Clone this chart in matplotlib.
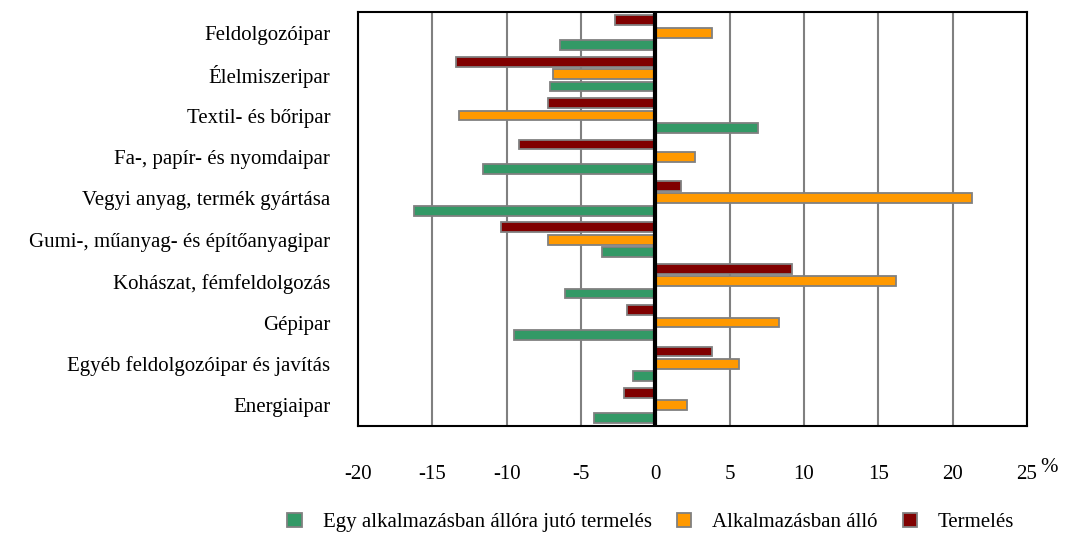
import numpy as np
import matplotlib.pyplot as plt

# Data (%)
categories = ["Feldolgozóipar", "Élelmiszeripar", "Textil- és bőripar",
              "Fa-, papír- és nyomdaipar", "Vegyi anyag, termék gyártása",
              "Gumi-, műanyag- és építőanyagipar", "Kohászat, fémfeldolgozás",
              "Gépipar", "Egyéb feldolgozóipar és javítás", "Energiaipar"]
termeles = [-2.7, -13.4, -7.2, -9.2, 1.7, -10.4, 9.2, -1.9, 3.8, -2.1]
alkalmazott = [3.8, -6.9, -13.2, 2.7, 21.3, -7.2, 16.2, 8.3, 5.6, 2.1]
egy_fore = [-6.4, -7.1, 6.9, -11.6, -16.2, -3.6, -6.1, -9.5, -1.5, -4.1]

series_labels = ["Egy alkalmazásban állóra jutó termelés", "Alkalmazásban álló", "Termelés"]
colors = ["#339966", "#FF9900", "#800000"]

plt.rcParams['font.family'] = ['Liberation Serif', 'DejaVu Serif']
plt.rcParams['axes.unicode_minus'] = False
fs = 15

fig = plt.figure(figsize=(10.67, 5.36), dpi=100)
ax = fig.add_axes([0.3355, 0.2052, 0.627, 0.7724])

y = np.arange(len(categories))
off = 0.3
h = 0.24
edge = dict(edgecolor="#808080", linewidth=1.3)
b1 = ax.barh(y + off, egy_fore, height=h, color=colors[0], label=series_labels[0], zorder=3, **edge)
b2 = ax.barh(y, alkalmazott, height=h, color=colors[1], label=series_labels[1], zorder=3, **edge)
b3 = ax.barh(y - off, termeles, height=h, color=colors[2], label=series_labels[2], zorder=3, **edge)

ax.set_xlim(-20, 25)
ax.set_ylim(len(categories) - 0.5, -0.5)
ax.set_xticks(np.arange(-20, 26, 5))
ax.set_yticks(y)
ax.set_yticklabels(categories, fontsize=fs)
ax.tick_params(axis='x', labelsize=fs, length=0, pad=28)
ax.tick_params(axis='y', length=0, pad=20)
ax.grid(axis='x', color="#808080", linewidth=1.5, zorder=0)
ax.axvline(0, color="black", linewidth=3, zorder=4)
for s in ax.spines.values():
    s.set_linewidth(1.5)
    s.set_color("black")

fig.text(0.9745, 0.128, "%", fontsize=fs, ha="left", va="center")

fig.legend(handles=[b1, b2, b3], labels=series_labels, loc="center",
           bbox_to_anchor=(0.61, 0.025), ncol=3, frameon=False, fontsize=fs,
           handlelength=0.7, handleheight=0.7, handletextpad=1.0, columnspacing=1.2)

fig.savefig("out.png", dpi=100)
